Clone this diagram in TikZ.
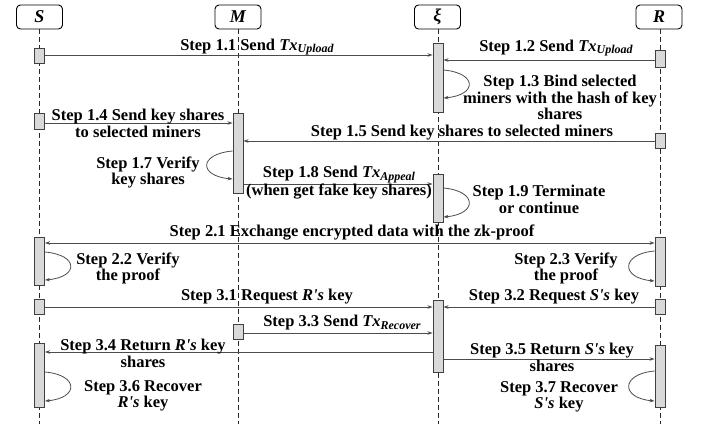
\documentclass[tikz,border=0pt]{standalone}
\usepackage{fontspec}
\setmainfont{Liberation Serif}
\usetikzlibrary{arrows.meta}
\newcommand{\txsub}[1]{\textit{Tx}\raisebox{-0.35ex}{\fontsize{12}{12}\selectfont\textit{#1}}}
\newcommand{\who}[1]{\textit{#1\textquotesingle s}}
\begin{document}
\begin{tikzpicture}[x=1pt,y=-1pt,
  head/.style={draw=black, line width=0.9pt, rounded corners=4pt, fill=white,
    minimum width=46pt, minimum height=24pt, inner sep=0pt,
    font=\fontsize{18}{18}\selectfont\bfseries\itshape},
  life/.style={dash pattern=on 5pt off 3pt, line width=0.8pt, black!85},
  actbar/.style={draw=black!75, fill=black!15, line width=0.9pt,
    minimum width=10pt, inner sep=0pt},
  msg/.style={draw=black!70, line width=0.8pt, -{Stealth[length=5pt,width=3.5pt]}},
  dmsg/.style={draw=black!70, line width=0.8pt, {Stealth[length=5pt,width=3.5pt]}-{Stealth[length=5pt,width=3.5pt]}},
  lbl/.style={font=\fontsize{16.5}{16.5}\selectfont\bfseries, align=center, inner sep=0pt},
]
\useasboundingbox (0,0) rectangle (702,426);
% heads
\node[head] (S) at (39.5,17) {S};
\node[head] (M) at (238,17) {M};
\node[head] (X) at (437.5,17) {ξ};
\node[head] (R) at (659,17) {R};
% lifelines
\coordinate (Sb) at (39.5,424);
\coordinate (Mb) at (238,424);
\coordinate (Xb) at (438,424);
\coordinate (Rb) at (660,424);
\draw[life] (S.south) -- (Sb);
\draw[life] (M.south) -- (Mb);
\draw[life] (X.south -| Xb) -- (Xb);
\draw[life] (R.south -| Rb) -- (Rb);
% activation bars
\node[actbar, minimum height=15pt] (sb1) at (39.5,55.5) {};
\node[actbar, minimum height=16pt] (sb2) at (39.5,121) {};
\node[actbar, minimum height=48pt] (sb3) at (39.5,261) {};
\node[actbar, minimum height=15pt] (sb4) at (39.5,306.5) {};
\node[actbar, minimum height=64pt] (sb5) at (39.5,375) {};
\node[actbar, minimum height=80pt] (mb1) at (238,153) {};
\node[actbar, minimum height=15pt] (mb2) at (238,331.5) {};
\node[actbar, minimum height=69pt] (xb1) at (438,77.5) {};
\node[actbar, minimum height=48pt] (xb2) at (438,198) {};
\node[actbar, minimum height=72pt] (xb3) at (438,336) {};
\node[actbar, minimum height=17pt] (rb1) at (660,58.5) {};
\node[actbar, minimum height=15pt] (rb2) at (660,140.5) {};
\node[actbar, minimum height=49pt] (rb3) at (660,261.5) {};
\node[actbar, minimum height=15pt] (rb4) at (660,306.5) {};
\node[actbar, minimum height=62pt] (rb5) at (660,376) {};
% messages
\draw[msg] (sb1.east |- 0,55) -- (xb1.west |- 0,55);
\draw[msg] (rb1.west |- 0,60) -- (xb1.east |- 0,60);
\draw[msg] (sb2.east |- 0,123) -- (mb1.west |- 0,123);
\draw[msg] (rb2.west |- 0,141) -- (mb1.east |- 0,141);
\draw[msg] (mb1.east |- 0,184) -- (xb2.west |- 0,184);
\draw[dmsg] (sb3.east |- 0,243) -- (rb3.west |- 0,243);
\draw[msg] (sb4.east |- 0,307) -- (xb3.west |- 0,307);
\draw[msg] (rb4.west |- 0,307) -- (xb3.east |- 0,307);
\draw[msg] (mb2.east |- 0,333) -- (xb3.west |- 0,333);
\draw[msg] (xb3.west |- 0,352) -- (sb5.east |- 0,352);
\draw[msg] (xb3.east |- 0,359) -- (rb5.west |- 0,359);
% self loops
\draw[msg] (xb1.east |- 0,70) .. controls +(34,3) and +(34,-3) .. (xb1.east |- 0,98);
\draw[msg] (mb1.west |- 0,151) .. controls +(-34,3) and +(-34,-3) .. (mb1.west |- 0,179);
\draw[msg] (xb2.east |- 0,188) .. controls +(34,3) and +(34,-3) .. (xb2.east |- 0,217);
\draw[msg] (sb3.east |- 0,252) .. controls +(34,3) and +(34,-3) .. (sb3.east |- 0,280);
\draw[msg] (rb3.west |- 0,251) .. controls +(-34,3) and +(-34,-3) .. (rb3.west |- 0,281);
\draw[msg] (sb5.east |- 0,372) .. controls +(34,3) and +(34,-3) .. (sb5.east |- 0,401);
\draw[msg] (rb5.west |- 0,371) .. controls +(-34,3) and +(-34,-3) .. (rb5.west |- 0,401);
% labels
\node[lbl] (t11) at (257,47) {Step 1.1 Send \txsub{Upload}};
\node[lbl] (t12) at (556,48) {Step 1.2 Send \txsub{Upload}};
\node[lbl] (t13) at (560,97.5) {Step 1.3 Bind selected\\miners with the hash of key\\shares};
\node[lbl] (t14) at (138,123.5) {Step 1.4 Send key shares\\to selected miners};
\node[lbl] (t15) at (462,132.5) {Step 1.5 Send key shares to selected miners};
\node[lbl] (t17) at (148,172.5) {Step 1.7 Verify\\key shares};
\node[lbl] (t18) at (339,183) {Step 1.8 Send \txsub{Appeal}\\(when get fake key shares)};
\node[lbl] (t19) at (539,199.5) {Step 1.9 Terminate\\or continue};
\node[lbl] (t21) at (352,233) {Step 2.1 Exchange encrypted data with the zk-proof};
\node[lbl] (t22) at (128,268.5) {Step 2.2 Verify\\the proof};
\node[lbl] (t23) at (566,268.5) {Step 2.3 Verify\\the proof};
\node[lbl] (t31) at (267,297) {Step 3.1 Request \who{R} key};
\node[lbl] (t32) at (554,297) {Step 3.2 Request \who{S} key};
\node[lbl] (t33) at (342,323) {Step 3.3 Send \txsub{Recover}};
\node[lbl] (t34) at (143,353.5) {Step 3.4 Return \who{R} key\\shares};
\node[lbl] (t35) at (552,357.5) {Step 3.5 Return \who{S} key\\shares};
\node[lbl] (t36) at (143,396) {Step 3.6 Recover\\\who{R} key};
\node[lbl] (t37) at (559,397) {Step 3.7 Recover\\\who{S} key};
\end{tikzpicture}
\end{document}
